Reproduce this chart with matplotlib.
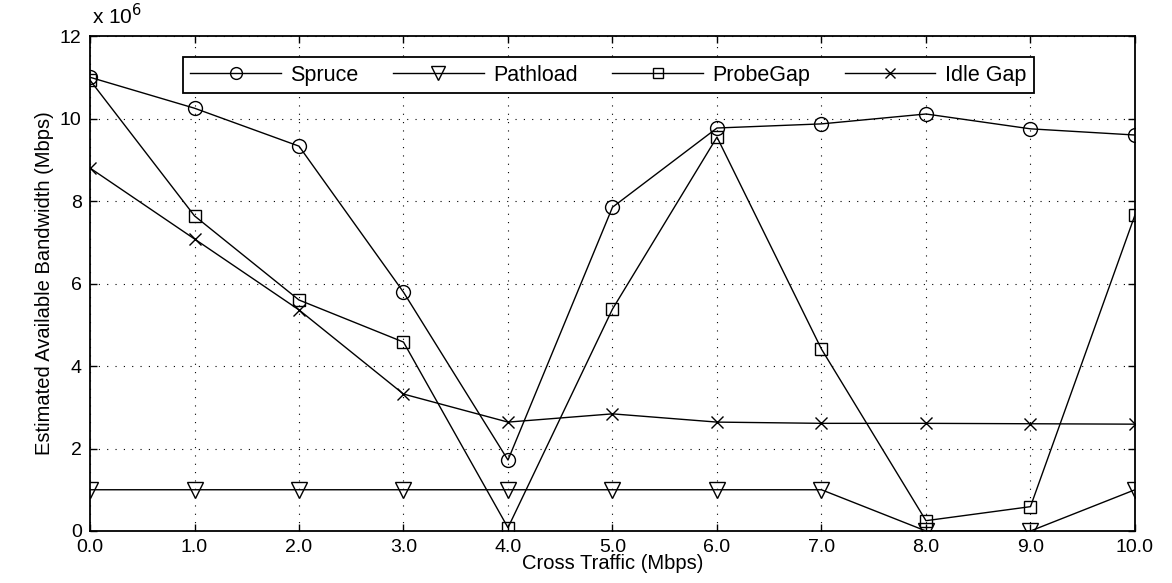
import matplotlib
matplotlib.use("Agg")
import matplotlib.pyplot as plt

plt.rcParams['font.family'] = ['Liberation Sans', 'DejaVu Sans']

cross_traffic = [0, 1, 2, 3, 4, 5, 6, 7, 8, 9, 10]
tick_labels = ['0.0', '1.0', '2.0', '3.0', '4.0', '5.0', '6.0', '7.0', '8.0', '9.0', '10.0']

# estimated bandwidth, units of 1e6
spruce = [11.0, 10.25, 9.33, 5.79, 1.72, 7.85, 9.77, 9.87, 10.11, 9.75, 9.6]
pathload = [1.0, 1.0, 1.0, 1.0, 1.0, 1.0, 1.0, 1.0, 0.0, 0.0, 1.0]
probegap = [10.93, 7.64, 5.6, 4.58, 0.08, 5.38, 9.55, 4.41, 0.25, 0.59, 7.66]
idlegap = [8.8, 7.08, 5.36, 3.32, 2.64, 2.84, 2.64, 2.61, 2.61, 2.6, 2.59]

fig = plt.figure(figsize=(11.72, 5.83), dpi=100)
ax = fig.add_axes([0.0768, 0.0892, 0.8916, 0.8490])

kw = dict(color='black', linewidth=1.0, fillstyle='none', markeredgewidth=1.0)
ax.plot(cross_traffic, spruce, marker='o', markersize=10, label='Spruce', **kw)
ax.plot(cross_traffic, pathload, marker='v', markersize=12, label='Pathload', **kw)
ax.plot(cross_traffic, probegap, marker='s', markersize=9, label='ProbeGap', **kw)
ax.plot(cross_traffic, idlegap, marker='x', markersize=9, label='Idle Gap', **kw)

ax.set_xlim(0, 10)
ax.set_ylim(0, 12)
ax.set_xticks(cross_traffic)
ax.set_xticklabels(tick_labels)
ax.set_yticks([0, 2, 4, 6, 8, 10, 12])
ax.set_yticklabels(['0', '2', '4', '6', '8', '10', '12'])
ax.tick_params(direction='in', top=True, right=True, labelsize=14, length=5, width=1)
ax.tick_params(axis='x', pad=6)
ax.tick_params(axis='y', pad=6)
ax.grid(True, linestyle=(0, (1, 6.5)), color='black', linewidth=0.8)
for s in ax.spines.values():
    s.set_linewidth(1.3)

ax.set_xlabel('Cross Traffic (Mbps)', fontsize=14.5, labelpad=-1.5)
ax.set_ylabel('Estimated Available Bandwidth (Mbps)', fontsize=14.5, labelpad=4)
ax.text(0.002, 1.015, r'x 10$^6$', transform=ax.transAxes, fontsize=15, va='bottom')

leg = ax.legend(loc='center', bbox_to_anchor=(0.496, 0.921), ncol=4, fontsize=15.5,
                handlelength=4.2, fancybox=False, framealpha=1, edgecolor='black',
                borderpad=0.35, columnspacing=1.6, handletextpad=0.45, markerscale=0.85,
                borderaxespad=0)
leg.get_frame().set_linewidth(1.3)

fig.savefig('out.png', dpi=100)
